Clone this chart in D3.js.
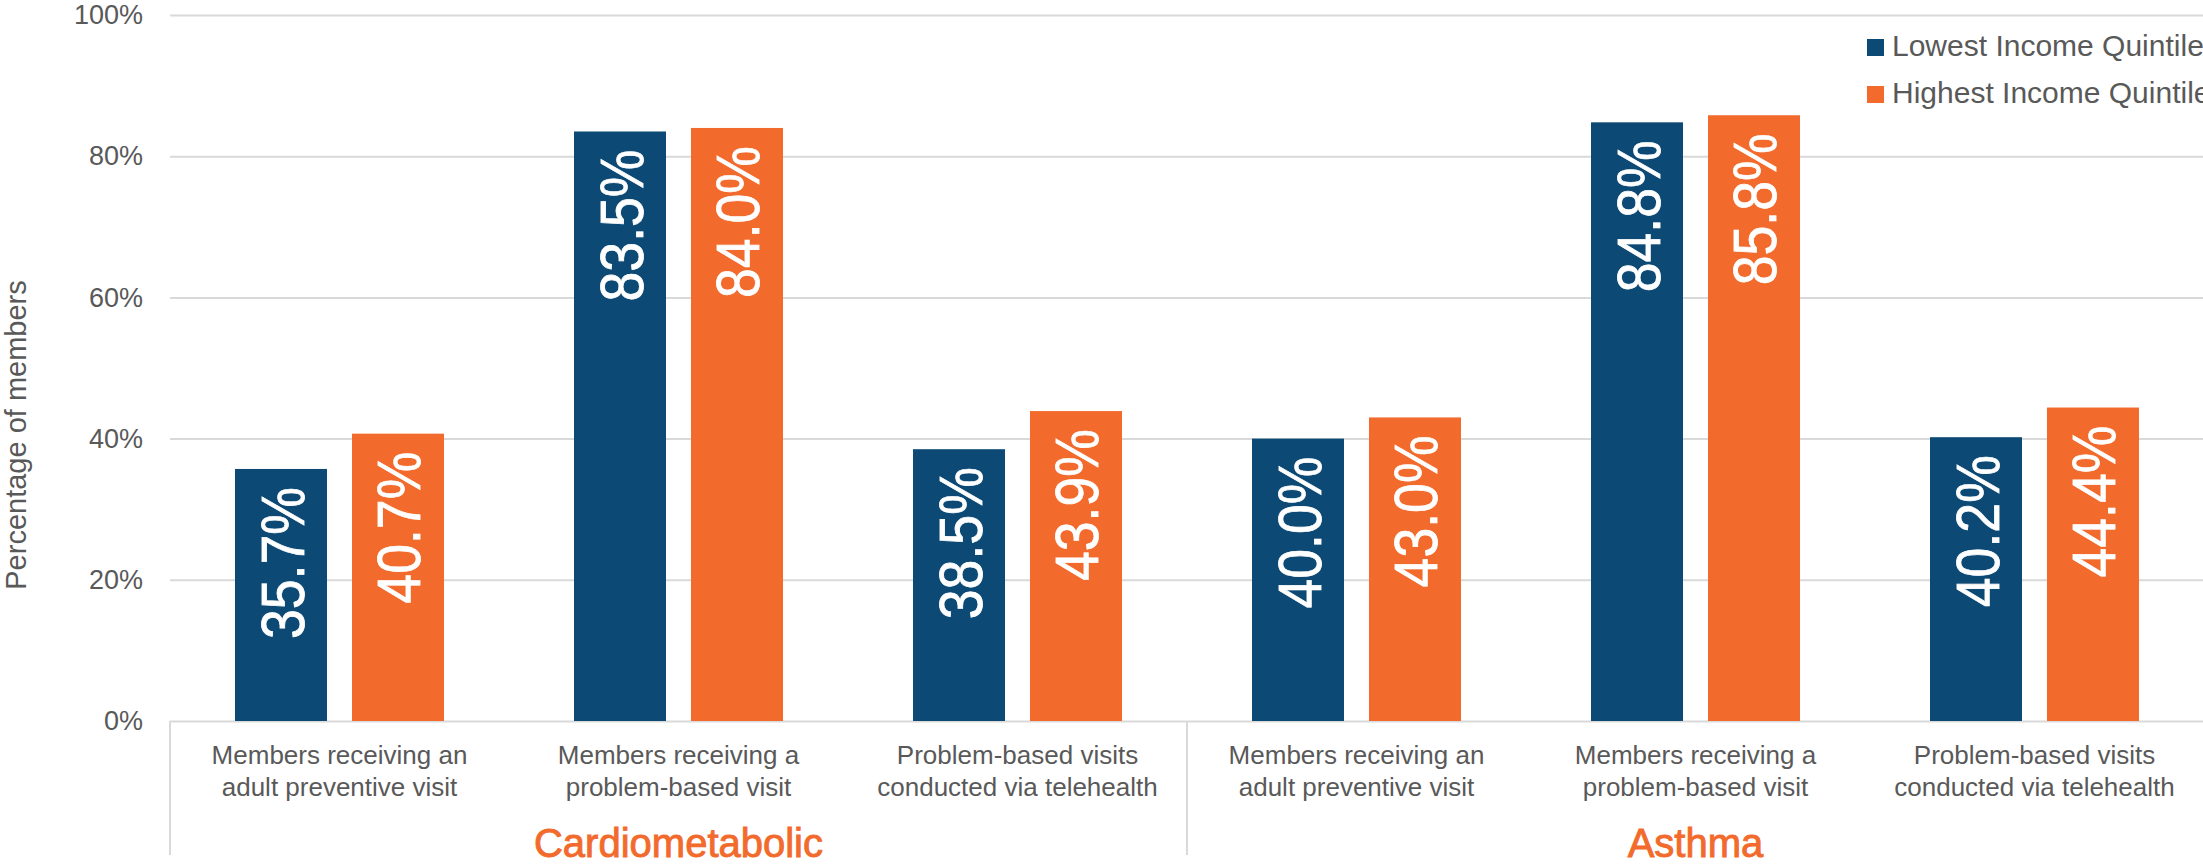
<!DOCTYPE html>
<html>
<head>
<meta charset="utf-8">
<script src="https://cdn.jsdelivr.net/npm/d3@7"></script>
<style>
  html, body { margin: 0; padding: 0; background: #ffffff; overflow: hidden; }
  svg { display: block; }
</style>
</head>
<body>
<svg id="chart" width="2203" height="865"></svg>
<script>
// ---- data ----
const categories = [
  ["Members receiving an", "adult preventive visit"],
  ["Members receiving a", "problem-based visit"],
  ["Problem-based visits", "conducted via telehealth"],
  ["Members receiving an", "adult preventive visit"],
  ["Members receiving a", "problem-based visit"],
  ["Problem-based visits", "conducted via telehealth"]
];
const groups = ["Cardiometabolic", "Asthma"];
const seriesNames = ["Lowest Income Quintile", "Highest Income Quintile"];
const lowestValues = [35.7, 83.5, 38.5, 40.0, 84.8, 40.2];
const highestValues = [40.7, 84.0, 43.9, 43.0, 85.8, 44.4];
const yTicks = [0, 20, 40, 60, 80, 100];
const yTitle = "Percentage of members";

// ---- styles ----
const colors = ["#0C4A75", "#F26A2C"];
const gridColor = "#d9d9d9";
const textColor = "#595959";
const font = "'Liberation Sans', Arial, sans-serif";

const svg = d3.select("#chart");
const plotL = 170, plotR = 2204, plotT = 15, plotB = 721;

const x = d3.scaleBand().domain(d3.range(categories.length)).range([plotL, plotR]).paddingInner(0).paddingOuter(0);
const xs = d3.scaleBand().domain([0, 1]).range([0, x.bandwidth()]).paddingInner(0.2137).paddingOuter(0.5556);
const y = d3.scaleLinear().domain([0, 100]).range([plotB, plotT]);

// gridlines
svg.append("g")
  .attr("transform", `translate(${plotL},0)`)
  .call(d3.axisLeft(y).tickValues(yTicks).tickSize(-(plotR - plotL)).tickFormat(""))
  .call(g => g.select(".domain").remove())
  .call(g => g.selectAll("line").attr("stroke", gridColor).attr("stroke-width", 2));

// y tick labels
svg.append("g")
  .attr("transform", `translate(${plotL},0)`)
  .call(d3.axisLeft(y).tickValues(yTicks).tickSize(0).tickPadding(27).tickFormat(d => d + "%"))
  .call(g => g.select(".domain").remove())
  .call(g => g.selectAll("text").attr("fill", textColor).style("font-family", font).style("font-size", "27px"));

// y title
svg.append("text")
  .attr("transform", `translate(26,435) rotate(-90)`)
  .attr("text-anchor", "middle")
  .attr("fill", textColor)
  .style("font-family", font)
  .style("font-size", "29px")
  .text(yTitle);

// category axis frame (vertical separators)
const sepX = [plotL, plotL + (plotR - plotL) / 2, plotR];
svg.selectAll("line.sep").data(sepX).join("line")
  .attr("class", "sep")
  .attr("x1", d => d).attr("x2", d => d)
  .attr("y1", plotB).attr("y2", 855)
  .attr("stroke", gridColor).attr("stroke-width", 2);

// bars
const series = [lowestValues, highestValues];
series.forEach((vals, si) => {
  const g = svg.append("g");
  g.selectAll("rect").data(vals).join("rect")
    .attr("x", (d, i) => x(i) + xs(si))
    .attr("y", d => y(d))
    .attr("width", xs.bandwidth())
    .attr("height", d => y(0) - y(d))
    .attr("fill", colors[si]);
  g.selectAll("text").data(vals).join("text")
    .attr("transform", (d, i) => `translate(${x(i) + xs(si) + xs.bandwidth() / 2},${y(d) + 18}) rotate(-90)`)
    .attr("y", 22.5)
    .attr("text-anchor", "end")
    .attr("fill", "#ffffff")
    .attr("stroke", "#ffffff")
    .attr("stroke-width", 0.8)
    .attr("textLength", 152)
    .attr("lengthAdjust", "spacingAndGlyphs")
    .style("font-family", "'Liberation Sans Narrow', 'Arial Narrow', 'Liberation Sans', Arial, sans-serif")
    .style("font-size", "62px")
    .text(d => d.toFixed(1) + "%");
});

// category labels
const catG = svg.append("g");
categories.forEach((lines, i) => {
  const t = catG.append("text")
    .attr("text-anchor", "middle")
    .attr("fill", textColor)
    .style("font-family", font)
    .style("font-size", "26px");
  lines.forEach((ln, li) => {
    t.append("tspan").attr("x", x(i) + x.bandwidth() / 2).attr("y", 764 + li * 32).text(ln);
  });
});

// group labels
svg.selectAll("text.grp").data(groups).join("text")
  .attr("class", "grp")
  .attr("x", (d, i) => plotL + (plotR - plotL) / 4 * (2 * i + 1))
  .attr("y", 857)
  .attr("text-anchor", "middle")
  .attr("fill", colors[1])
  .attr("stroke", colors[1])
  .attr("stroke-width", 0.9)
  .style("font-family", font)
  .style("font-size", "40px")
  .text(d => d);

// legend
const leg = svg.append("g").attr("transform", "translate(1867,39)");
seriesNames.forEach((name, i) => {
  leg.append("rect").attr("x", 0).attr("y", i * 47).attr("width", 17).attr("height", 17).attr("fill", colors[i]);
  leg.append("text").attr("x", 25).attr("y", i * 47 + 17)
    .attr("fill", textColor)
    .style("font-family", font)
    .style("font-size", "30px")
    .text(name);
});
</script>
</body>
</html>
